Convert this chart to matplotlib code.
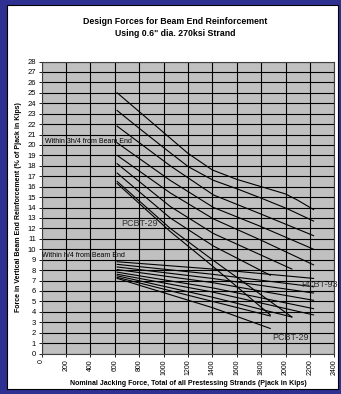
import matplotlib
matplotlib.use("Agg")
import matplotlib.pyplot as plt
from matplotlib.patches import Rectangle

plt.rcParams["font.family"] = ["Liberation Sans", "DejaVu Sans"]

# Within 3h/4 from beam end (upper family), Pjack in kips vs % of Pjack
upper_x = [
    [620, 800, 1000, 1200, 1400, 1600, 1800, 2000, 2100, 2230],
    [620, 800, 1055, 1205, 1410, 1601, 1800, 2011, 2230],
    [620, 1055, 1410, 1793, 2230],
    [620, 1055, 1410, 1793, 2230],
    [620, 1055, 1410, 1793, 2230],
    [620, 1055, 1410, 2052],
    [620, 1055, 1410, 1875],
    [620, 1055, 1400, 2052],
    [620, 1055, 1400, 1875],
]
upper_y = [
    [25.0, 23.2, 21.2, 19.2, 17.6, 16.7, 16.0, 15.3, 14.7, 13.8],
    [23.3, 21.6, 19.25, 17.9, 16.6, 15.8, 14.9, 13.9, 12.7],
    [21.8, 18.0, 15.2, 13.4, 11.3],
    [20.2, 16.6, 14.0, 12.2, 10.0],
    [19.0, 15.4, 12.9, 10.9, 8.5],
    [18.2, 14.1, 11.5, 8.1],
    [17.3, 13.0, 10.3, 7.5],
    [16.5, 12.0, 9.0, 3.5],
    [16.3, 11.7, 8.4, 3.7],
]

# Within h/4 from beam end (lower family)
lower_x = [
    [620, 1400, 2230],
    [620, 1400, 2230],
    [620, 1400, 2230],
    [620, 1400, 2230],
    [620, 1400, 2230],
    [620, 1400, 2230],
    [620, 1400, 2052],
    [620, 1400, 1875],
    [620, 1400, 1875],
]
lower_y = [
    [8.8, 8.1, 7.2],
    [8.55, 7.6, 6.4],
    [8.3, 7.2, 5.8],
    [8.05, 6.8, 5.1],
    [7.8, 6.3, 4.3],
    [7.6, 5.9, 3.7],
    [7.45, 5.4, 3.5],
    [7.3, 5.0, 3.6],
    [7.2, 4.4, 2.4],
]

x_ticks = list(range(0, 2401, 200))
y_ticks = list(range(0, 29))

fig = plt.figure(figsize=(3.41, 3.94), dpi=100)
fig.patch.set_facecolor("#2E3192")
fig.patches.append(Rectangle((7 / 341, 5 / 394), 331 / 341, 384 / 394,
                             transform=fig.transFigure, facecolor="white",
                             edgecolor="black", linewidth=0.8, zorder=-10))

ax = fig.add_axes([41.5 / 341, 1 - 353.5 / 394, 292.8 / 341, 292 / 394])
ax.set_facecolor("#C0C0C0")

for xs, ys in zip(upper_x, upper_y):
    ax.plot(xs, ys, color="black", linewidth=0.8)
for xs, ys in zip(lower_x, lower_y):
    ax.plot(xs, ys, color="black", linewidth=0.8)

ax.set_xlim(0, 2400)
ax.set_ylim(0, 28)
ax.set_xticks(x_ticks)
ax.set_xticklabels([str(t) for t in x_ticks], rotation=90, fontsize=5)
ax.set_yticks(y_ticks)
ax.set_yticklabels([str(t) for t in y_ticks], fontsize=5.5)
ax.tick_params(length=2.5, width=0.6, pad=1.5)
ax.grid(True, color="black", linewidth=0.8)
ax.set_axisbelow(True)
for s in ax.spines.values():
    s.set_linewidth(0.8)
    s.set_color("#404040")

ax.text(30, 20.3, "Within 3h/4 from Beam End", fontsize=5, va="center")
ax.text(0, 9.4, "Within h/4 from Beam End", fontsize=5, va="center")
ax.text(650, 12.5, "PCBT-29", fontsize=6.5, color="#303030", va="center")
ax.text(2130, 6.6, "PCBT-93", fontsize=6.5, color="#303030", va="center")
ax.text(1890, 1.5, "PCBT-29", fontsize=6.5, color="#303030", va="center")

fig.text(0.515, 0.931, "Design Forces for Beam End Reinforcement\nUsing 0.6\" dia. 270ksi Strand",
         ha="center", va="center", fontsize=6.3, fontweight="bold", linespacing=1.45)
ax.set_xlabel("Nominal Jacking Force, Total of all Prestessing Strands (Pjack in Kips)",
              fontsize=5, fontweight="bold", labelpad=4)
ax.set_ylabel("Force in Vertical Beam End Reinforcement (% of Pjack in Kips)",
              fontsize=5, fontweight="bold", labelpad=4)

fig.savefig("out.png", dpi=100, facecolor=fig.get_facecolor())
